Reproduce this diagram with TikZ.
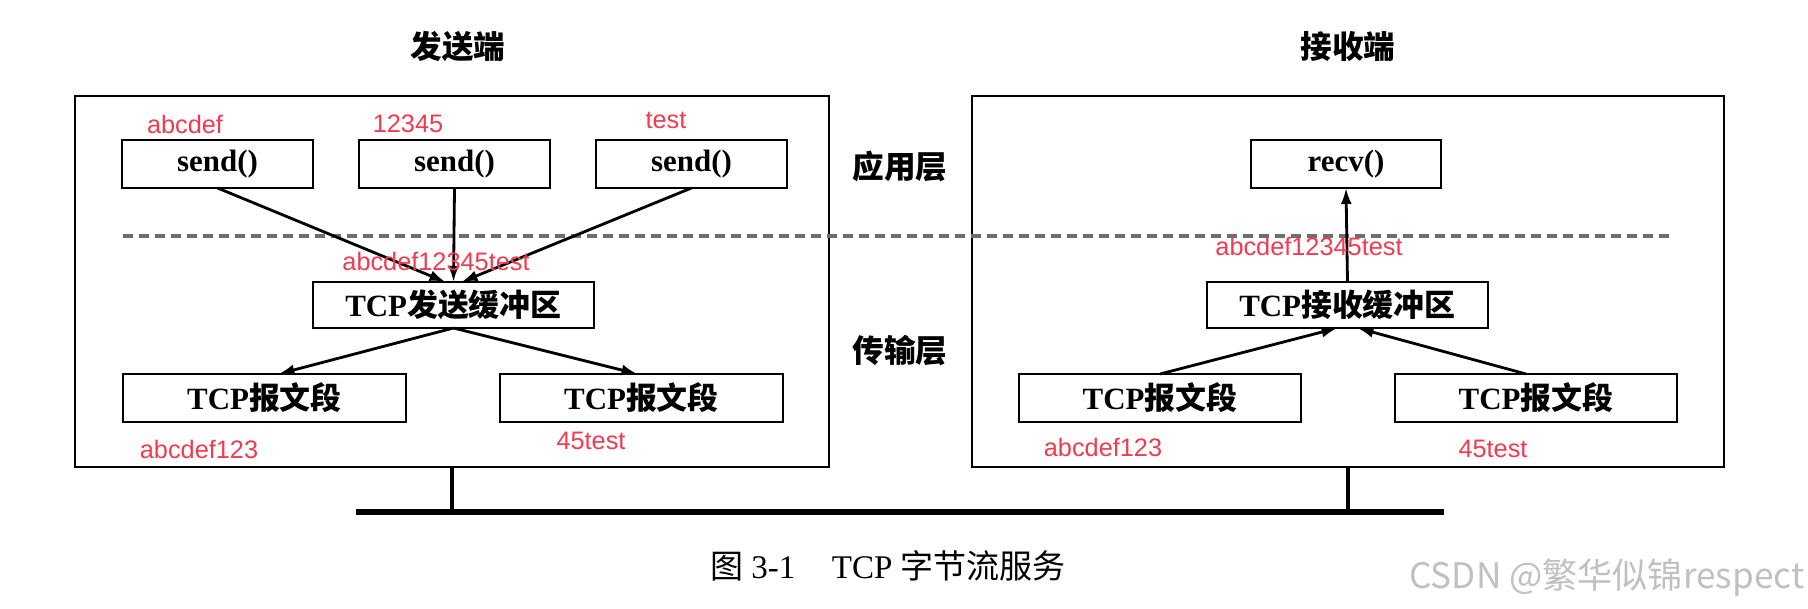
\documentclass[tikz,border=0pt]{standalone}
\usepackage{fontspec}
\setmainfont{Liberation Serif}
\newfontfamily\cjk{Noto Sans CJK SC}
\newfontfamily\marksans{Liberation Sans}
\usepackage{xcolor}
\usetikzlibrary{positioning,arrows.meta}
\definecolor{notered}{RGB}{242,58,80}
\definecolor{markgray}{RGB}{192,192,192}
\definecolor{dashgray}{RGB}{110,110,110}

\tikzset{
  box/.style={draw,line width=0.8pt,inner sep=0pt,outer sep=0pt,minimum height=4.8mm,font=\fontsize{8.8}{11}\selectfont\bfseries},
  outerbox/.style={draw,line width=0.8pt,inner sep=0pt,outer sep=0pt,minimum height=37.1mm},
  layertext/.style={font=\cjk\bfseries\fontsize{9}{11}\selectfont,inner sep=0pt},
  note/.style={text=notered,font=\marksans\fontsize{7.2}{8}\selectfont,inner sep=0pt},
  flow/.style={->,line width=0.8pt},
  divider/.style={line width=1pt,dashgray,dash pattern=on 1mm off 0.6mm},
}

\begin{document}
\begin{tikzpicture}[x=0.1mm,y=-0.1mm,>={Latex[length=1.6mm,width=1.1mm]}]
  \useasboundingbox (0,0) rectangle (1808,609);

  % sender
  \node[layertext] (stitle) at (458,47) {发送端};
  \node[outerbox,minimum width=75.4mm] (sender) at (452,281.5) {};
  \node[box,minimum width=19.1mm] (send1) at (217.5,164) {send()};
  \node[box,minimum width=19.1mm,right=4.6mm of send1] (send2) {send()};
  \node[box,minimum width=19.1mm,right=4.6mm of send2] (send3) {send()};
  \node[box,minimum width=28.1mm,minimum height=4.6mm] (sbuf) at (453.5,305) {TCP{\cjk 发送缓冲区}};
  \node[box,minimum width=28.3mm] (seg1) at (264.5,398) {TCP{\cjk 报文段}};
  \node[box,minimum width=28.3mm,right=9.4mm of seg1] (seg2) {TCP{\cjk 报文段}};

  % receiver
  \node[layertext] (rtitle) at (1348,47) {接收端};
  \node[outerbox,minimum width=75.2mm] (receiver) at (1348,281.5) {};
  \node[box,minimum width=19mm] (recv) at (1346,164) {recv()};
  \node[box,minimum width=28.1mm,minimum height=4.6mm] (rbuf) at (1347.5,305) {TCP{\cjk 接收缓冲区}};
  \node[box,minimum width=28.2mm] (rseg1) at (1160,398) {TCP{\cjk 报文段}};
  \node[box,minimum width=28.2mm,right=9.4mm of rseg1] (rseg2) {TCP{\cjk 报文段}};

  % layers
  \node[layertext] (app) at (900,166) {应用层};
  \node[layertext] (trans) at (900,351) {传输层};
  \coordinate (dl) at (123,236);
  \coordinate (dr) at (1673,236);
  \draw[divider] (dl) -- (dr);

  \draw[flow] (send1.south) -- ([xshift=-0.8mm]sbuf.north);
  \draw[flow] (send2.south) -- (sbuf.north);
  \draw[flow] (send3.south) -- ([xshift=0.8mm]sbuf.north);
  \draw[flow] (sbuf.south) -- ([xshift=1.4mm]seg1.north);
  \draw[flow] (sbuf.south) -- ([xshift=-0.4mm]seg2.north);
  \draw[flow] (rseg1.north) -- ([xshift=-1mm]rbuf.south);
  \draw[flow] ([xshift=-1mm]rseg2.north) -- ([xshift=1mm]rbuf.south);
  \draw[flow] (rbuf.north) -- (recv.south);

  % network
  \coordinate (busl) at (356,512);
  \coordinate (busr) at (1444,512);
  \draw[line width=1.7pt] (busl) -- (busr);
  \draw[line width=1pt] (sender.south) -- (sender.south |- busl);
  \draw[line width=1pt] (receiver.south) -- (receiver.south |- busl);

  % data
  \node[note] (d1) at (185,124) {abcdef};
  \node[note] (d2) at (408,124) {12345};
  \node[note] (d3) at (666,120) {test};
  \node[note] (dall) at (436,261) {abcdef12345test};
  \node[note] (p1) at (199,449) {abcdef123};
  \node[note] (p2) at (591,441) {45test};
  \node[note] (rall) at (1309,246) {abcdef12345test};
  \node[note] (q1) at (1103,447) {abcdef123};
  \node[note] (q2) at (1493,449) {45test};

  \node[font=\fontsize{9.4}{11}\selectfont,inner sep=0pt] (cap) at (888,566) {{\cjk 图} 3-1\hspace{1.1em}TCP {\cjk 字节流服务}};
  \node[anchor=east,text=markgray,font=\cjk\fontsize{10}{12}\selectfont,inner sep=0pt] (mark) at (1805,578) {CSDN @繁华似锦respect};
\end{tikzpicture}
\end{document}
